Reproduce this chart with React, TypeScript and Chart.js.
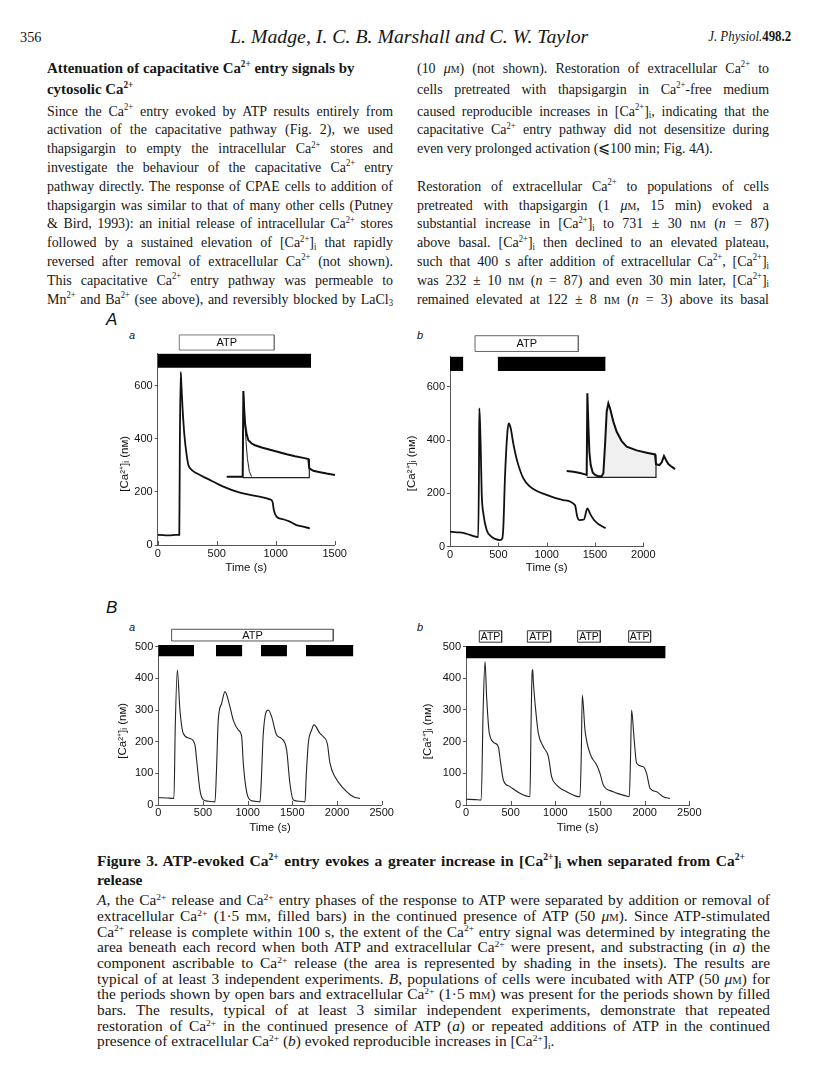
import React, { useEffect, useLayoutEffect, useRef } from "react";
import { Chart, registerables } from "chart.js";

Chart.register(...registerables);

const SERIF = "'Liberation Serif', 'Times New Roman', serif";
const SANS = "'Liberation Sans', Arial, sans-serif";
Chart.defaults.font.family = SANS;

// ===================== DATA =====================
// Figure 3 A a
const aaTime = [0, 50, 100, 150, 183, 188, 195, 200, 210, 225, 245, 260, 290, 330, 415, 556, 697, 838, 950, 973, 984, 1007, 1063, 1120, 1176, 1232, 1289];
const aaCa = [38, 37, 36, 38, 38, 400, 652, 610, 520, 420, 340, 301, 282, 270, 251, 220, 197, 184, 172, 163, 132, 107, 97, 88, 75, 69, 63];
const aaCaPeriods = [[0, 1300]];
const aaAtpPeriods = [[183, 988]];
const aaCaBand = [667, 720];
const aaAtpBand = [734, 791];
const aaXTicks = [0, 500, 1000, 1500];
const aaYTicks = [0, 200, 400, 600];

// A a inset
const aaInsetTime = [0, 100, 180, 192, 200, 210, 220, 240, 260, 300, 340, 420, 520, 620, 720, 820, 920, 980, 992, 1040, 1120, 1200, 1300];
const aaInsetCa = [40, 40, 40, 40, 650, 520, 420, 340, 300, 276, 264, 248, 232, 216, 200, 186, 174, 166, 99, 82, 72, 62, 52];
const aaReleaseTime = [200, 216, 232, 248, 272, 300];
const aaReleaseCa = [650, 455, 289, 171, 76, 40];
const aaBoxTime = [195, 992, 992];
const aaBoxCa = [33, 33, 166];

// Figure 3 A b
const abTime = [0, 70, 138, 200, 276, 292, 300, 303, 310, 317, 328, 345, 380, 431, 517, 540, 552, 569, 593, 607, 628, 655, 697, 759, 828, 1000, 1172, 1293, 1317, 1338, 1386, 1421, 1448, 1490, 1552, 1610];
const abCa = [56, 54, 52, 45, 37, 36, 300, 519, 470, 387, 200, 125, 62, 37, 25, 30, 75, 262, 425, 462, 444, 387, 319, 256, 225, 194, 175, 156, 112, 100, 102, 144, 125, 100, 81, 69];
const abCaPeriods = [[0, 138], [493, 1610]];
const abAtpPeriods = [[259, 1328]];
const abCaBand = [659, 712];
const abAtpBand = [732, 791];
const abXTicks = [0, 500, 1000, 1500, 2000];
const abYTicks = [0, 200, 400, 600];

// A b inset
const abInsetTime = [0, 80, 160, 220, 240, 248, 260, 272, 288, 312, 340, 380, 420, 440, 460, 480, 500, 520, 560, 600, 660, 720, 840, 960, 1060, 1072, 1112, 1140, 1168, 1192, 1220, 1260, 1300];
const abInsetCa = [67, 62, 52, 42, 38, 650, 412, 212, 112, 57, 38, 28, 28, 50, 262, 512, 575, 538, 438, 362, 292, 250, 222, 205, 192, 118, 112, 132, 180, 150, 120, 100, 82];
const abBoxTime = [240, 1072, 1072];
const abBoxCa = [20, 20, 192];
const abShadeFrom = 440;
const abShadeTo = 1072;

// Figure 3 B a
const baTime = [0, 100, 175, 190, 213, 242, 280, 354, 410, 429, 466, 504, 560, 634, 650, 671, 709, 746, 802, 839, 895, 933, 951, 988, 1026, 1080, 1138, 1150, 1175, 1231, 1268, 1324, 1380, 1436, 1473, 1511, 1580, 1642, 1655, 1679, 1716, 1742, 1809, 1846, 1891, 1921, 1977, 2070, 2182, 2257];
const baCa = [23, 22, 21, 250, 426, 300, 226, 210, 190, 142, 47, 16, 12, 10, 100, 268, 321, 358, 310, 268, 237, 216, 132, 42, 16, 12, 10, 60, 226, 300, 279, 221, 210, 174, 68, 16, 12, 10, 90, 195, 237, 253, 226, 216, 195, 132, 89, 53, 26, 21];
const baCaPeriods = [[0, 400], [645, 940], [1149, 1440], [1652, 2183]];
const baAtpPeriods = [[149, 1958]];
const baCaBand = [470, 505];
const baAtpBand = [518, 555];
const bXTicks = [0, 500, 1000, 1500, 2000, 2500];
const bYTicks = [0, 100, 200, 300, 400, 500];

// Figure 3 B b
const bbTime = [0, 100, 170, 192, 213, 231, 261, 325, 362, 388, 418, 492, 604, 716, 728, 740, 747, 754, 784, 810, 866, 922, 959, 1015, 1127, 1276, 1290, 1302, 1332, 1388, 1463, 1500, 1537, 1649, 1798, 1828, 1842, 1854, 1880, 1910, 1985, 2022, 2060, 2134, 2209, 2283];
const bbCa = [18, 17, 16, 300, 453, 342, 226, 195, 184, 132, 79, 58, 37, 26, 250, 416, 428, 389, 289, 226, 184, 153, 89, 63, 42, 26, 150, 347, 237, 163, 126, 100, 63, 42, 28, 26, 150, 300, 216, 132, 121, 100, 53, 42, 26, 21];
const bbCaPeriods = [[0, 2235]];
const bbAtpPeriods = [[149, 399], [687, 948], [1250, 1504], [1821, 2067]];
const bbCaBand = [463, 502];
const bbAtpBand = [514, 550];

const X_TITLE = "Time (s)";
const Y_TITLE = "[Ca\u00B2\u207A]\u1D62 (n\u1D0D)";

// ===================== TEXT =====================
const headerLeft = "356";
const headerMid = "L. Madge, I. C. B. Marshall and C. W. Taylor";
const headerRight = "<i>J. Physiol.</i><b>498.2</b>";

const CA = "Ca<sup>2+</sup>";
const CAI = "[Ca<sup>2+</sup>]<sub>i</sub>";
const NM = "n<span class='sc'>m</span>";
const MM = "m<span class='sc'>m</span>";
const UM = "<i>\u03BC</i><span class='sc'>m</span>";

const headingLines = [`Attenuation of capacitative ${CA} entry signals by`, `cytosolic ${CA}`];
const leftLines = [
  `Since the ${CA} entry evoked by ATP results entirely from`,
  `activation of the capacitative pathway (Fig. 2), we used`,
  `thapsigargin to empty the intracellular ${CA} stores and`,
  `investigate the behaviour of the capacitative ${CA} entry`,
  `pathway directly. The response of CPAE cells to addition of`,
  `thapsigargin was similar to that of many other cells (Putney`,
  `&amp; Bird, 1993): an initial release of intracellular ${CA} stores`,
  `followed by a sustained elevation of ${CAI} that rapidly`,
  `reversed after removal of extracellular ${CA} (not shown).`,
  `This capacitative ${CA} entry pathway was permeable to`,
  `Mn<sup>2+</sup> and Ba<sup>2+</sup> (see above), and reversibly blocked by LaCl<sub>3</sub>`,
];
const rightLines = [
  `(10 ${UM}) (not shown). Restoration of extracellular ${CA} to`,
  `cells pretreated with thapsigargin in ${CA}-free medium`,
  `caused reproducible increases in ${CAI}, indicating that the`,
  `capacitative ${CA} entry pathway did not desensitize during`,
  `even very prolonged activation (\u2A7D100 min; Fig. 4<i>A</i>).`,
  `Restoration of extracellular ${CA} to populations of cells`,
  `pretreated with thapsigargin (1 ${UM}, 15 min) evoked a`,
  `substantial increase in ${CAI} to 731 \u00B1 30 ${NM} (<i>n</i> = 87)`,
  `above basal. ${CAI} then declined to an elevated plateau,`,
  `such that 400 s after addition of extracellular ${CA}, ${CAI}`,
  `was 232 \u00B1 10 ${NM} (<i>n</i> = 87) and even 30 min later, ${CAI}`,
  `remained elevated at 122 \u00B1 8 ${NM} (<i>n</i> = 3) above its basal`,
];
const captionTitle = [
  `Figure 3. ATP-evoked ${CA} entry evokes a greater increase in ${CAI} when separated from ${CA}`,
  `release`,
];
const captionLines = [
  `<i>A</i>, the ${CA} release and ${CA} entry phases of the response to ATP were separated by addition or removal of`,
  `extracellular ${CA} (1\u00B75 ${MM}, filled bars) in the continued presence of ATP (50 ${UM}). Since ATP-stimulated`,
  `${CA} release is complete within 100 s, the extent of the ${CA} entry signal was determined by integrating the`,
  `area beneath each record when both ATP and extracellular ${CA} were present, and substracting (in <i>a</i>) the`,
  `component ascribable to ${CA} release (the area is represented by shading in the insets). The results are`,
  `typical of at least 3 independent experiments. <i>B</i>, populations of cells were incubated with ATP (50 ${UM}) for`,
  `the periods shown by open bars and extracellular ${CA} (1\u00B75 ${MM}) was present for the periods shown by filled`,
  `bars. The results, typical of at least 3 similar independent experiments, demonstrate that repeated`,
  `restoration of ${CA} in the continued presence of ATP (<i>a</i>) or repeated additions of ATP in the continued`,
  `presence of extracellular ${CA} (<i>b</i>) evoked reproducible increases in ${CAI}.`,
];

// ===================== CHART HELPERS =====================
const pts = (xs: number[], ys: number[]) => xs.map((x, i) => ({ x, y: ys[i] }));

const innerXTicks = {
  id: "innerXTicks",
  beforeDatasetsDraw(chart: any) {
    const { ctx, chartArea } = chart;
    const sx = chart.scales.x;
    ctx.save();
    ctx.strokeStyle = "#555";
    ctx.lineWidth = 1;
    sx.ticks.forEach((t: any) => {
      const x = Math.round(sx.getPixelForValue(t.value)) + 0.5;
      ctx.beginPath();
      ctx.moveTo(x, chartArea.bottom);
      ctx.lineTo(x, chartArea.bottom - 4);
      ctx.stroke();
    });
    ctx.restore();
  },
};

const atpLabels = {
  id: "atpLabels",
  afterDatasetsDraw(chart: any) {
    const { ctx } = chart;
    chart.data.datasets.forEach((ds: any) => {
      if (ds.label !== "ATP") return;
      const xs = ds.data.map((p: any) => p.x);
      const ys = ds.data.map((p: any) => p.y);
      const cx = chart.scales.x.getPixelForValue((Math.min(...xs) + Math.max(...xs)) / 2);
      const cy = chart.scales.y.getPixelForValue((Math.min(...ys) + Math.max(...ys)) / 2);
      ctx.save();
      ctx.font = `${ds.labelSize}px ${SANS}`;
      ctx.fillStyle = "#111";
      ctx.textAlign = "center";
      ctx.textBaseline = "middle";
      ctx.fillText(ds.label, cx, cy + 0.5);
      ctx.restore();
    });
  },
};

type PanelSpec = {
  time: number[]; ca: number[]; caPeriods: number[][]; atpPeriods: number[][];
  caBand: number[]; atpBand: number[]; xTicks: number[]; yTicks: number[];
  xMax: number; yMax: number;
  L: number; R: number; T: number; B: number;
  yTitleX: number; yTitleY: number; xTitleY: number; xTickY: number;
  lineW: number; lineC: string; boxC: string; atpSize: number;
};

function frame(p: PanelSpec) {
  const left = Math.floor(p.L - 75);
  const top = Math.floor(p.T - 50);
  const right = Math.ceil(p.R + 24);
  const bottom = Math.ceil(p.B + 34);
  return { left, top, width: right - left, height: bottom - top, yW: p.L - left, xH: bottom - p.B, padTop: p.T - top, padRight: right - p.R };
}

function MainPanel({ p }: { p: PanelSpec }) {
  const ref = useRef<HTMLCanvasElement | null>(null);
  const f = frame(p);
  useEffect(() => {
    if (!ref.current) return;
    const datasets: any[] = [];
    datasets.push({
      label: "trace", data: pts(p.time, p.ca), borderColor: p.lineC, borderWidth: p.lineW,
      pointRadius: 0, fill: false, cubicInterpolationMode: "monotone", order: 0,
    });
    p.caPeriods.forEach(([s, e]) =>
      datasets.push({
        label: "Ca", data: [{ x: s, y: p.caBand[1] }, { x: e, y: p.caBand[1] }],
        borderColor: "#000", borderWidth: 1, backgroundColor: "#000", fill: { value: p.caBand[0] }, pointRadius: 0, order: 1,
      })
    );
    p.atpPeriods.forEach(([s, e]) =>
      datasets.push({
        label: "ATP", labelSize: p.atpSize,
        data: [
          { x: s, y: p.atpBand[0] }, { x: s, y: p.atpBand[1] }, { x: e, y: p.atpBand[1] },
          { x: e, y: p.atpBand[0] }, { x: s, y: p.atpBand[0] },
        ],
        borderColor: p.boxC, borderWidth: 1, fill: false, pointRadius: 0, clip: false, order: 2,
      })
    );
    const lh = 11.5 * 1.2;
    const nSp = Math.max(0, Math.round((2 * (p.yTitleY - (p.T + p.B) / 2)) / (0.5 * 11.5)));
    const chart = new Chart(ref.current, {
      type: "line",
      data: { datasets },
      options: {
        responsive: false, animation: false, devicePixelRatio: 1,
        layout: { padding: { left: 0, top: f.padTop, right: f.padRight, bottom: 0 } },
        plugins: { legend: { display: false }, tooltip: { enabled: false } },
        scales: {
          x: {
            type: "linear", min: 0, max: p.xMax,
            afterBuildTicks: (s: any) => { s.ticks = p.xTicks.map((v) => ({ value: v })); },
            afterFit: (s: any) => { s.height = f.xH; },
            grid: { display: false, drawTicks: false },
            border: { display: true, color: "#555", width: 1 },
            ticks: { padding: p.xTickY - p.B - 6.6, color: "#111", font: { size: 11, family: SANS }, maxRotation: 0, autoSkip: false, callback: (v: any) => String(v) },
            title: { display: true, text: X_TITLE, color: "#111", font: { size: 11.5, family: SANS }, padding: { top: 0, bottom: f.top + f.height - p.xTitleY - lh / 2 } },
          },
          y: {
            type: "linear", min: 0, max: p.yMax,
            afterBuildTicks: (s: any) => { s.ticks = p.yTicks.map((v) => ({ value: v })); },
            afterFit: (s: any) => { s.width = f.yW; },
            grid: { display: true, drawOnChartArea: false, drawTicks: true, tickLength: 3, color: "#555", lineWidth: 1 },
            border: { display: true, color: "#555", width: 1 },
            ticks: { padding: 2, color: "#111", font: { size: 11, family: SANS }, autoSkip: false, callback: (v: any) => String(v) },
            title: { display: true, text: Y_TITLE + "\u2002".repeat(nSp), color: "#111", font: { size: 11.5, family: SANS }, padding: { top: p.yTitleX - f.left - lh / 2, bottom: 0 } },
          },
        },
      } as any,
      plugins: [innerXTicks, atpLabels],
    });
    return () => chart.destroy();
  }, []);
  return (
    <canvas ref={ref} width={f.width} height={f.height}
      style={{ position: "absolute", left: f.left, top: f.top, width: f.width, height: f.height }} />
  );
}

type InsetLine = { t: number[]; v: number[]; width: number; color: string; fillTo?: number; fillColor?: string; order: number };
type InsetSpec = { lines: InsetLine[]; xMin: number; xMax: number; yMin: number; yMax: number; x0: number; x1: number; yTop: number; yBottom: number };

function InsetPanel({ s }: { s: InsetSpec }) {
  const ref = useRef<HTMLCanvasElement | null>(null);
  const left = Math.floor(s.x0 - 3), top = Math.floor(s.yTop - 3);
  const right = Math.ceil(s.x1 + 3), bottom = Math.ceil(s.yBottom + 3);
  const w = right - left, h = bottom - top;
  useEffect(() => {
    if (!ref.current) return;
    const datasets = s.lines.map((l) => ({
      data: pts(l.t, l.v), borderColor: l.color, borderWidth: l.width, pointRadius: 0,
      fill: l.fillTo !== undefined ? { value: l.fillTo } : false,
      backgroundColor: l.fillColor || "transparent", order: l.order, tension: 0, clip: false,
    }));
    const chart = new Chart(ref.current, {
      type: "line",
      data: { datasets },
      options: {
        responsive: false, animation: false, devicePixelRatio: 1,
        layout: { padding: { left: s.x0 - left, right: right - s.x1, top: s.yTop - top, bottom: bottom - s.yBottom } },
        plugins: { legend: { display: false }, tooltip: { enabled: false } },
        scales: {
          x: { type: "linear", display: false, min: s.xMin, max: s.xMax },
          y: { type: "linear", display: false, min: s.yMin, max: s.yMax },
        },
      } as any,
    });
    return () => chart.destroy();
  }, []);
  return <canvas ref={ref} width={w} height={h} style={{ position: "absolute", left, top, width: w, height: h }} />;
}

// ===================== TEXT HELPERS =====================
type LineSpec = { x: number; y: number; w?: number; size: number; sx: number; html: string; justify?: boolean; bold?: boolean; italic?: boolean; right?: boolean };

function TextLine(p: LineSpec) {
  const ref = useRef<HTMLDivElement | null>(null);
  useLayoutEffect(() => {
    const el = ref.current;
    if (!el || !p.w) return;
    el.style.wordSpacing = "0px";
    el.style.transform = `scaleX(${p.sx})`;
    const nat = el.getBoundingClientRect().width;
    if (nat > p.w) {
      el.style.transform = `scaleX(${(p.sx * p.w) / nat})`;
    } else if (p.justify) {
      const n = (el.textContent || "").split(" ").length - 1;
      if (n > 0) el.style.wordSpacing = `${(p.w - nat) / n / p.sx}px`;
    }
  }, []);
  const style: any = {
    top: p.y - 0.61 * p.size,
    fontSize: p.size,
    lineHeight: `${p.size}px`,
    transform: `scaleX(${p.sx})`,
    fontWeight: p.bold ? 700 : 400,
    fontStyle: p.italic ? "italic" : "normal",
    whiteSpace: "nowrap",
  };
  if (p.right) {
    style.right = 816 - p.x;
    style.transformOrigin = "100% 0";
  } else {
    style.left = p.x;
    style.transformOrigin = "0 0";
  }
  return <div ref={ref} className="ln" style={style} dangerouslySetInnerHTML={{ __html: p.html }} />;
}

const css = `
.pg{position:absolute;left:0;top:0;width:816px;height:1088px;background:#fff;overflow:hidden;color:#161616}
.ln{position:absolute;font-family:${SERIF}}
.ln sup{font-size:0.62em;vertical-align:0;position:relative;top:-0.58em;line-height:0}
.ln sub{font-size:0.62em;vertical-align:0;position:relative;top:0.28em;line-height:0}
.sc{font-variant:small-caps}
.lab{position:absolute;font-family:${SANS};font-style:italic;color:#111;line-height:1}
`;

export default function App() {
  const specAa: PanelSpec = {
    time: aaTime, ca: aaCa, caPeriods: aaCaPeriods, atpPeriods: aaAtpPeriods, caBand: aaCaBand, atpBand: aaAtpBand,
    xTicks: aaXTicks, yTicks: aaYTicks, xMax: 1500, yMax: 720,
    L: 157.7, R: 334.7, T: 353.8, B: 545, yTitleX: 125, yTitleY: 463, xTitleY: 568, xTickY: 554,
    lineW: 1.8, lineC: "#111", boxC: "#777", atpSize: 11,
  };
  const specAb: PanelSpec = {
    time: abTime, ca: abCa, caPeriods: abCaPeriods, atpPeriods: abAtpPeriods, caBand: abCaBand, atpBand: abAtpBand,
    xTicks: abXTicks, yTicks: abYTicks, xMax: 2000, yMax: 712,
    L: 450, R: 643.3, T: 356.8, B: 546.7, yTitleX: 412, yTitleY: 463, xTitleY: 568, xTickY: 555,
    lineW: 1.8, lineC: "#111", boxC: "#666", atpSize: 11,
  };
  const specBa: PanelSpec = {
    time: baTime, ca: baCa, caPeriods: baCaPeriods, atpPeriods: baAtpPeriods, caBand: baCaBand, atpBand: baAtpBand,
    xTicks: bXTicks, yTicks: bYTicks, xMax: 2500, yMax: 505,
    L: 158.3, R: 381.7, T: 645.1, B: 805, yTitleX: 123, yTitleY: 730, xTitleY: 828, xTickY: 813,
    lineW: 1.1, lineC: "#222", boxC: "#555", atpSize: 11,
  };
  const specBb: PanelSpec = {
    time: bbTime, ca: bbCa, caPeriods: bbCaPeriods, atpPeriods: bbAtpPeriods, caBand: bbCaBand, atpBand: bbAtpBand,
    xTicks: bXTicks, yTicks: bYTicks, xMax: 2500, yMax: 502,
    L: 466, R: 689.3, T: 646, B: 805, yTitleX: 428, yTitleY: 730, xTitleY: 828, xTickY: 813,
    lineW: 1.1, lineC: "#222", boxC: "#333", atpSize: 10.5,
  };
  const insetAa: InsetSpec = {
    lines: [
      { t: aaInsetTime, v: aaInsetCa, width: 2, color: "#111", order: 0 },
      { t: aaReleaseTime, v: aaReleaseCa, width: 1, color: "#222", order: 1 },
      { t: aaBoxTime, v: aaBoxCa, width: 1.2, color: "#222", order: 2 },
    ],
    xMin: 0, xMax: 1300, yMin: 20, yMax: 660, x0: 226.7, x1: 335, yTop: 389.6, yBottom: 479.5,
  };
  const abShadeT = abInsetTime.filter((t) => t >= abShadeFrom && t <= abShadeTo);
  const abShadeV = abInsetCa.filter((_, i) => abInsetTime[i] >= abShadeFrom && abInsetTime[i] <= abShadeTo);
  const insetAb: InsetSpec = {
    lines: [
      { t: abShadeT, v: abShadeV, width: 0, color: "rgba(0,0,0,0)", fillTo: 20, fillColor: "#f0f0f0", order: 3 },
      { t: abInsetTime, v: abInsetCa, width: 2, color: "#111", order: 0 },
      { t: abBoxTime, v: abBoxCa, width: 1.2, color: "#222", order: 2 },
    ],
    xMin: 0, xMax: 1300, yMin: 0, yMax: 660, x0: 566.7, x1: 675, yTop: 392, yBottom: 480,
  };

  const bodySize = 15.5, bodySx = 0.9, bodyStep = 18.8;
  // y position of each row of the two-column text block
  const rowY = (i: number) => (i === 0 ? 69 : i === 1 ? 90 : 112 + (i - 2) * bodyStep);
  const rightRow = (i: number) => (i < 5 ? i : i + 1);
  return (
    <div className="pg">
      <style>{css}</style>
      <TextLine x={20} y={39} size={15} sx={0.95} html={headerLeft} />
      <TextLine x={230} y={39} size={18} sx={1.1} html={headerMid} italic />
      <TextLine x={791} y={39} size={14} sx={0.92} html={headerRight} right />

      {headingLines.map((h, i) => (
        <TextLine key={"h" + i} x={47} y={rowY(i)} size={bodySize} sx={0.96} html={h} bold />
      ))}
      {leftLines.map((h, i) => (
        <TextLine key={"l" + i} x={47} y={rowY(i + 2)} w={346} size={bodySize} sx={bodySx} html={h} justify />
      ))}
      {rightLines.map((h, i) => (
        <TextLine key={"r" + i} x={417} y={rowY(rightRow(i))} w={352} size={bodySize} sx={bodySx} html={h} justify={i !== 4} />
      ))}

      <div className="lab" style={{ left: 106, top: 311, fontSize: 17 }}>A</div>
      <div className="lab" style={{ left: 129, top: 330, fontSize: 11 }}>a</div>
      <div className="lab" style={{ left: 417, top: 330, fontSize: 11 }}>b</div>
      <div className="lab" style={{ left: 106, top: 599, fontSize: 17 }}>B</div>
      <div className="lab" style={{ left: 129, top: 622, fontSize: 11 }}>a</div>
      <div className="lab" style={{ left: 417, top: 622, fontSize: 11 }}>b</div>

      <MainPanel p={specAa} />
      <MainPanel p={specAb} />
      <MainPanel p={specBa} />
      <MainPanel p={specBb} />
      <InsetPanel s={insetAa} />
      <InsetPanel s={insetAb} />

      <TextLine x={97} y={862} w={648} size={15.5} sx={1.0} html={captionTitle[0]} justify bold />
      <TextLine x={97} y={881} size={15.5} sx={1.0} html={captionTitle[1]} bold />
      {captionLines.map((h, i) => (
        <TextLine key={"c" + i} x={97} y={902 + i * 15.7} w={673} size={14.5} sx={1.06} html={h} justify={i !== captionLines.length - 1} />
      ))}
    </div>
  );
}
